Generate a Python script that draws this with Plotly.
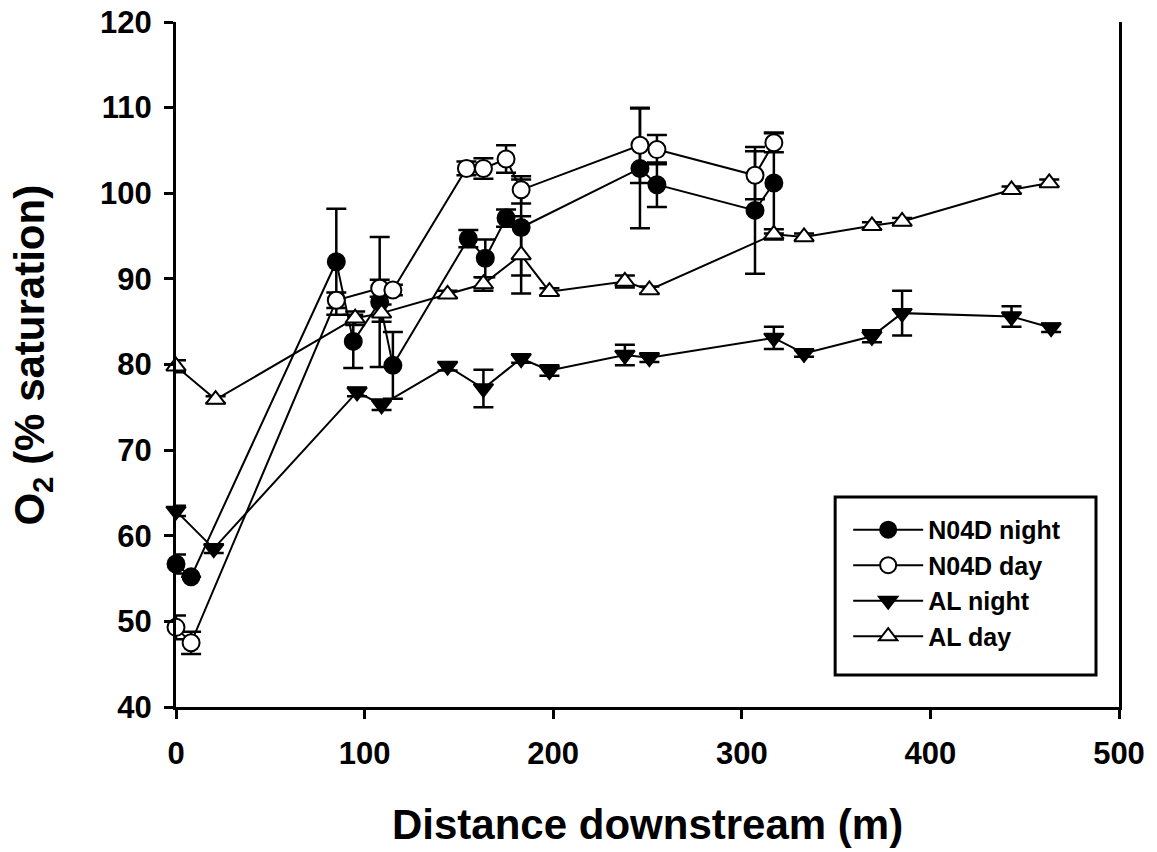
import plotly.graph_objects as go

# Dissolved oxygen (% saturation) vs distance downstream, mean ± error
n04d_night_x = [0, 8, 85, 94, 108, 115, 155, 164, 175, 183, 246, 255, 307, 317]
n04d_night_y = [56.7, 55.2, 92.0, 82.7, 87.3, 79.9, 94.7, 92.4, 97.1, 96.0, 102.9, 101.0, 98.0, 101.2]
n04d_night_e = [1.1, 0.0, 6.2, 3.1, 7.6, 3.9, 1.0, 2.2, 1.0, 5.6, 7.0, 2.6, 7.4, 5.9]

n04d_day_x = [0, 8, 85, 108, 115, 154, 163, 175, 183, 246, 255, 307, 317]
n04d_day_y = [49.3, 47.5, 87.5, 88.9, 88.7, 102.9, 102.9, 104.0, 100.4, 105.6, 105.1, 102.1, 105.9]
n04d_day_e = [1.4, 1.3, 0.9, 1.0, 0.6, 0.8, 1.2, 1.6, 1.6, 4.4, 1.7, 2.8, 1.1]

al_night_x = [0, 20, 96, 109, 144, 163, 183, 198, 238, 251, 317, 333, 369, 385, 443, 464]
al_night_y = [62.9, 58.5, 76.8, 75.3, 79.8, 77.2, 80.7, 79.3, 81.1, 80.8, 83.1, 81.3, 83.3, 86.0, 85.6, 84.3]
al_night_e = [0.6, 0.5, 0.5, 0.6, 0.5, 2.2, 0.5, 0.6, 1.2, 0.5, 1.3, 0.4, 0.7, 2.6, 1.2, 0.5]

al_day_x = [0, 21, 95, 109, 144, 163, 183, 198, 238, 251, 317, 333, 369, 385, 443, 463]
al_day_y = [79.8, 75.9, 85.4, 86.0, 88.2, 89.4, 92.8, 88.5, 89.7, 88.7, 95.2, 94.9, 96.2, 96.7, 100.4, 101.2]
al_day_e = [0.7, 0.4, 0.8, 1.0, 0.4, 0.8, 4.5, 0.4, 0.7, 0.4, 0.6, 0.4, 0.4, 0.4, 0.4, 0.4]

x_ticks = [0, 100, 200, 300, 400, 500]
y_ticks = [40, 50, 60, 70, 80, 90, 100, 110, 120]

FONT = "Liberation Sans"

series = [
    ("N04D night", n04d_night_x, n04d_night_y, n04d_night_e, "circle", "black"),
    ("N04D day", n04d_day_x, n04d_day_y, n04d_day_e, "circle", "white"),
    ("AL night", al_night_x, al_night_y, al_night_e, "triangle-down", "black"),
    ("AL day", al_day_x, al_day_y, al_day_e, "triangle-up", "white"),
]

fig = go.Figure()
for i, (name, xs, ys, es, sym, fill) in enumerate(series):
    fig.add_trace(go.Scatter(
        x=xs, y=ys, name=name, mode="lines+markers",
        line=dict(color="black", width=2),
        marker=dict(symbol=sym, size=17, color=fill,
                    line=dict(color="black", width=2)),
        error_y=dict(type="data", array=es, visible=True,
                     color="black", thickness=2.5, width=10),
        cliponaxis=False,
        legendgroup=f"g{i}",
    ))

# framed legend box
fig.add_shape(type="rect", xref="paper", yref="paper",
              x0=0.699, x1=0.9756, y0=0.0467, y1=0.3066,
              line=dict(color="black", width=3), fillcolor="white",
              layer="above")

fig.update_layout(
    width=1157, height=852,
    margin=dict(l=176, r=38, t=22, b=145, autoexpand=False),
    paper_bgcolor="white", plot_bgcolor="white",
    font=dict(family=FONT, color="black"),
    showlegend=True,
    legend=dict(
        x=0.7128, y=0.292, xanchor="left", yanchor="top",
        bgcolor="rgba(0,0,0,0)", borderwidth=0,
        font=dict(family=FONT, size=25, color="black", weight="bold"),
        itemwidth=70, tracegroupgap=0, traceorder="grouped",
    ),
    xaxis=dict(
        range=[0, 500], tickvals=x_ticks, ticks="outside", ticklen=9,
        tickwidth=3, tickcolor="black", showline=True, linewidth=3,
        linecolor="black", showgrid=False, zeroline=False,
        tickfont=dict(family=FONT, size=31, color="black", weight="bold"),
        ticklabelstandoff=8,
    ),
    yaxis=dict(
        range=[40, 120], tickvals=y_ticks, ticks="outside", ticklen=9,
        tickwidth=3, tickcolor="black", showline=True, linewidth=3,
        linecolor="black", mirror=True, showgrid=False, zeroline=False,
        tickfont=dict(family=FONT, size=31, color="black", weight="bold"),
        ticklabelstandoff=6,
    ),
    annotations=[
        dict(text="Distance downstream (m)", xref="paper", yref="paper",
             x=0.5, y=-0.172, xanchor="center", yanchor="middle",
             showarrow=False,
             font=dict(family=FONT, size=42, color="black", weight="bold")),
        dict(text="O<sub>2</sub> (% saturation)", xref="paper", yref="paper",
             x=-0.152, y=0.514, xanchor="center", yanchor="middle",
             textangle=-90, showarrow=False,
             font=dict(family=FONT, size=42, color="black", weight="bold")),
    ],
)

fig.write_html("out.html")
